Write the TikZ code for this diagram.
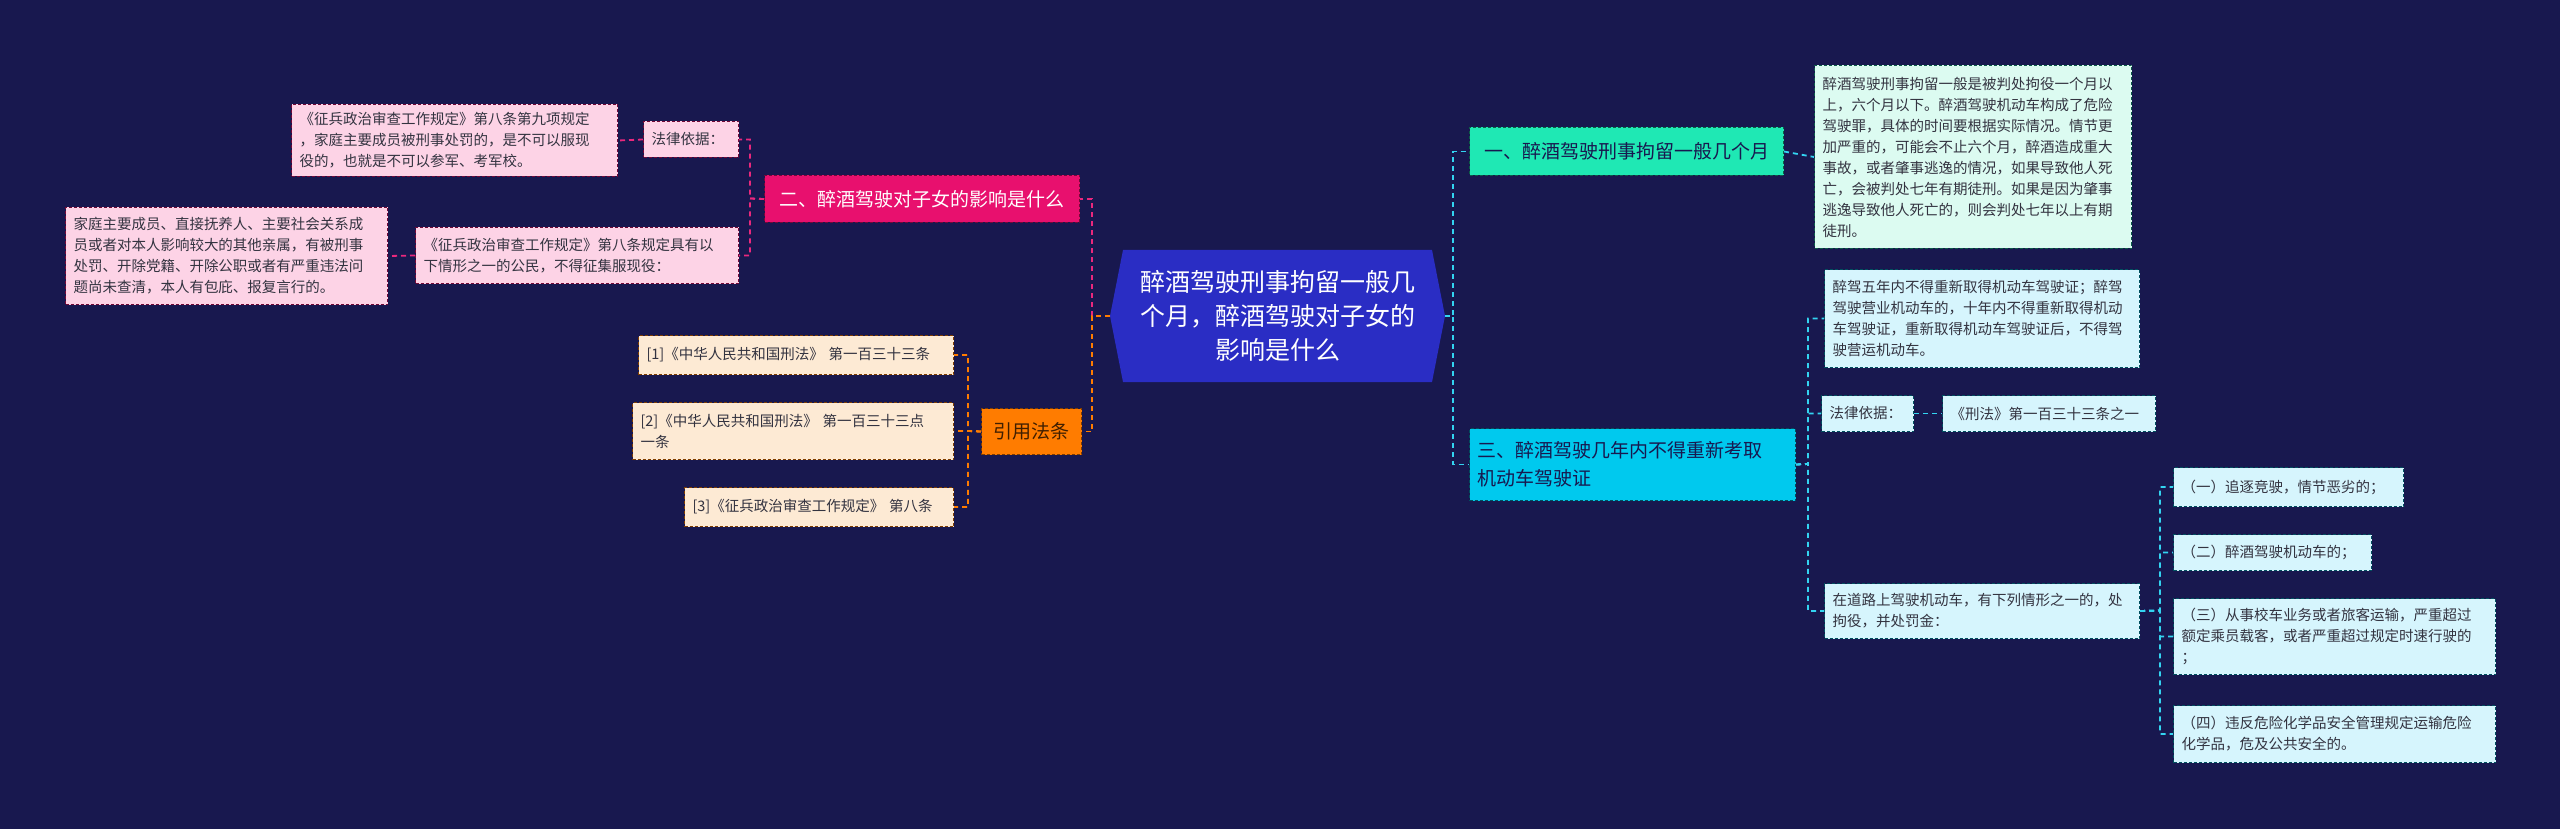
\documentclass[tikz,border=0pt]{standalone}
\usepackage{fontspec}
\setmainfont{Noto Sans CJK SC}
\definecolor{bg}{HTML}{18184F}
\definecolor{cen}{HTML}{2A2DC4}
\definecolor{pinkT}{HTML}{E8106E}
\definecolor{pinkL}{HTML}{FDD3E6}
\definecolor{orT}{HTML}{FF7C00}
\definecolor{orL}{HTML}{FDEAD4}
\definecolor{grT}{HTML}{1FE8B4}
\definecolor{grL}{HTML}{DCFBF1}
\definecolor{cyT}{HTML}{00C9EE}
\definecolor{cyL}{HTML}{D6F5FD}
\definecolor{txt}{HTML}{333340}
\tikzset{
  base/.style={anchor=north west,inner sep=8pt,align=left,dashed,dash pattern=on 3pt off 2pt,line width=1pt,text=txt,font=\fontsize{14.5}{21}\selectfont},
  pinkleaf/.style={base,fill=pinkL,draw=pinkT!50!black},
  orleaf/.style={base,fill=orL,draw=orT!50!black},
  grleaf/.style={base,fill=grL,draw=grT!40!black},
  cyleaf/.style={base,fill=cyL,draw=cyT!40!black},
  pinktop/.style={base,fill=pinkT,draw=pinkT!50!black,text=white,align=center,font=\fontsize{19}{26}\selectfont},
  ortop/.style={base,fill=orT,draw=orT!50!black,text=black!75!orT,align=center,font=\fontsize{19}{26}\selectfont},
  grtop/.style={base,fill=grT,draw=grT!40!black,text=bg,align=center,font=\fontsize{19}{26}\selectfont},
  cytop/.style={base,fill=cyT,draw=cyT!40!black,text=bg,font=\fontsize{19}{28}\selectfont},
  ln/.style={dashed,dash pattern=on 5pt off 4pt,line width=1.8pt},
  lp/.style={ln,draw=pinkT!90!white},
  lo/.style={ln,draw=orT},
  lc/.style={ln,draw=cyT!80!white},
}
\newcommand{\bx}[7]{%
  \pgfmathsetmacro\bw{#5-#3}\pgfmathsetmacro\bh{#6-#4}\pgfmathsetmacro\tw{#5-#3-16}%
  \node[#2,minimum width=\bw pt,minimum height=\bh pt,text width=\tw pt] (#1) at (#3,#4) {#7};}
\begin{document}
\begin{tikzpicture}[x=1pt,y=-1pt]
\fill[bg] (0,0) rectangle (2560,829);
\useasboundingbox (0,0) rectangle (2560,829);
% center
\fill[cen] (1110,316) -- (1123,250) -- (1432,250) -- (1445,316) -- (1432,382) -- (1123,382) -- cycle;
\node[text=white,align=center,font=\fontsize{25}{34}\selectfont] (c) at (1277.5,316) {醉酒驾驶刑事拘留一般几\\个月，醉酒驾驶对子女的\\影响是什么};
\coordinate (cw) at (1110,316);
\coordinate (ce) at (1445,316);
% left
\bx{p}{pinktop}{764}{175}{1079}{222}{二、醉酒驾驶对子女的影响是什么}
\bx{pl1}{pinkleaf}{643}{121}{738}{157}{法律依据：}
\bx{pa}{pinkleaf}{291}{104}{617}{176}{《征兵政治审查工作规定》第八条第九项规定\\，家庭主要成员被刑事处罚的，是不可以服现\\役的，也就是不可以参军、考军校。}
\bx{pl2}{pinkleaf}{415}{227}{738}{283}{《征兵政治审查工作规定》第八条规定具有以\\下情形之一的公民，不得征集服现役：}
\bx{pb}{pinkleaf}{65}{207}{387}{304}{家庭主要成员、直接抚养人、主要社会关系成\\员或者对本人影响较大的其他亲属，有被刑事\\处罚、开除党籍、开除公职或者有严重违法问\\题尚未查清，本人有包庇、报复言行的。}
\bx{o}{ortop}{981}{408}{1081}{454}{引用法条}
\bx{o1}{orleaf}{638}{335}{953}{374}{[1]《中华人民共和国刑法》 第一百三十三条}
\bx{o2}{orleaf}{632}{402}{953}{459}{[2]《中华人民共和国刑法》 第一百三十三点\\一条}
\bx{o3}{orleaf}{684}{487}{953}{526}{[3]《征兵政治审查工作规定》 第八条}
% right
\bx{g}{grtop}{1469}{127}{1783}{175}{一、醉酒驾驶刑事拘留一般几个月}
\bx{g1}{grleaf}{1814}{65}{2131}{248}{醉酒驾驶刑事拘留一般是被判处拘役一个月以\\上，六个月以下。醉酒驾驶机动车构成了危险\\驾驶罪，具体的时间要根据实际情况。情节更\\加严重的，可能会不止六个月，醉酒造成重大\\事故，或者肇事逃逸的情况，如果导致他人死\\亡，会被判处七年有期徒刑。如果是因为肇事\\逃逸导致他人死亡的，则会判处七年以上有期\\徒刑。}
\bx{t}{cytop}{1469}{428}{1795}{500}{三、醉酒驾驶几年内不得重新考取\\机动车驾驶证}
\bx{t1}{cyleaf}{1824}{269}{2139}{367}{醉驾五年内不得重新取得机动车驾驶证；醉驾\\驾驶营业机动车的，十年内不得重新取得机动\\车驾驶证，重新取得机动车驾驶证后，不得驾\\驶营运机动车。}
\bx{t2}{cyleaf}{1821}{395}{1913}{431}{法律依据：}
\bx{t2a}{cyleaf}{1942}{395}{2155}{431}{《刑法》第一百三十三条之一}
\bx{t3}{cyleaf}{1824}{583}{2139}{638}{在道路上驾驶机动车，有下列情形之一的，处\\拘役，并处罚金：}
\bx{s1}{cyleaf}{2173}{467}{2403}{506}{（一）追逐竞驶，情节恶劣的；}
\bx{s2}{cyleaf}{2173}{534}{2371}{570}{（二）醉酒驾驶机动车的；}
\bx{s3}{cyleaf}{2173}{598}{2495}{674}{（三）从事校车业务或者旅客运输，严重超过\\额定乘员载客，或者严重超过规定时速行驶的\\；}
\bx{s4}{cyleaf}{2173}{705}{2495}{762}{（四）违反危险化学品安全管理规定运输危险\\化学品，危及公共安全的。}
% connectors
\draw[lp] (cw) -- (1092,316) |- (p.east);
\draw[lo] (cw) -- (1092,316) |- (o.east);
\draw[lp] (p.west) -- (750,198.5) |- (pl1.east);
\draw[lp] (p.west) -- (750,198.5) |- (pl2.east);
\draw[lp] (pl1.west) -- (pa.east);
\draw[lp] (pl2.west) -- (pb.east);
\draw[lo] (o.west) -- (968,431) |- (o1.east);
\draw[lo] (o.west) -- (968,431) |- (o2.east);
\draw[lo] (o.west) -- (968,431) |- (o3.east);
\draw[lc] (ce) -- (1453,316) |- (g.west);
\draw[lc] (ce) -- (1453,316) |- (t.west);
\draw[lc] (g.east) -- (g1.west);
\draw[lc] (t.east) -- (1808,464) |- (t1.west);
\draw[lc] (t.east) -- (1808,464) |- (t2.west);
\draw[lc] (t.east) -- (1808,464) |- (t3.west);
\draw[lc] (t2.east) -- (t2a.west);
\draw[lc] (t3.east) -- (2160,610.5) |- (s1.west);
\draw[lc] (t3.east) -- (2160,610.5) |- (s2.west);
\draw[lc] (t3.east) -- (2160,610.5) |- (s3.west);
\draw[lc] (t3.east) -- (2160,610.5) |- (s4.west);
\end{tikzpicture}
\end{document}
